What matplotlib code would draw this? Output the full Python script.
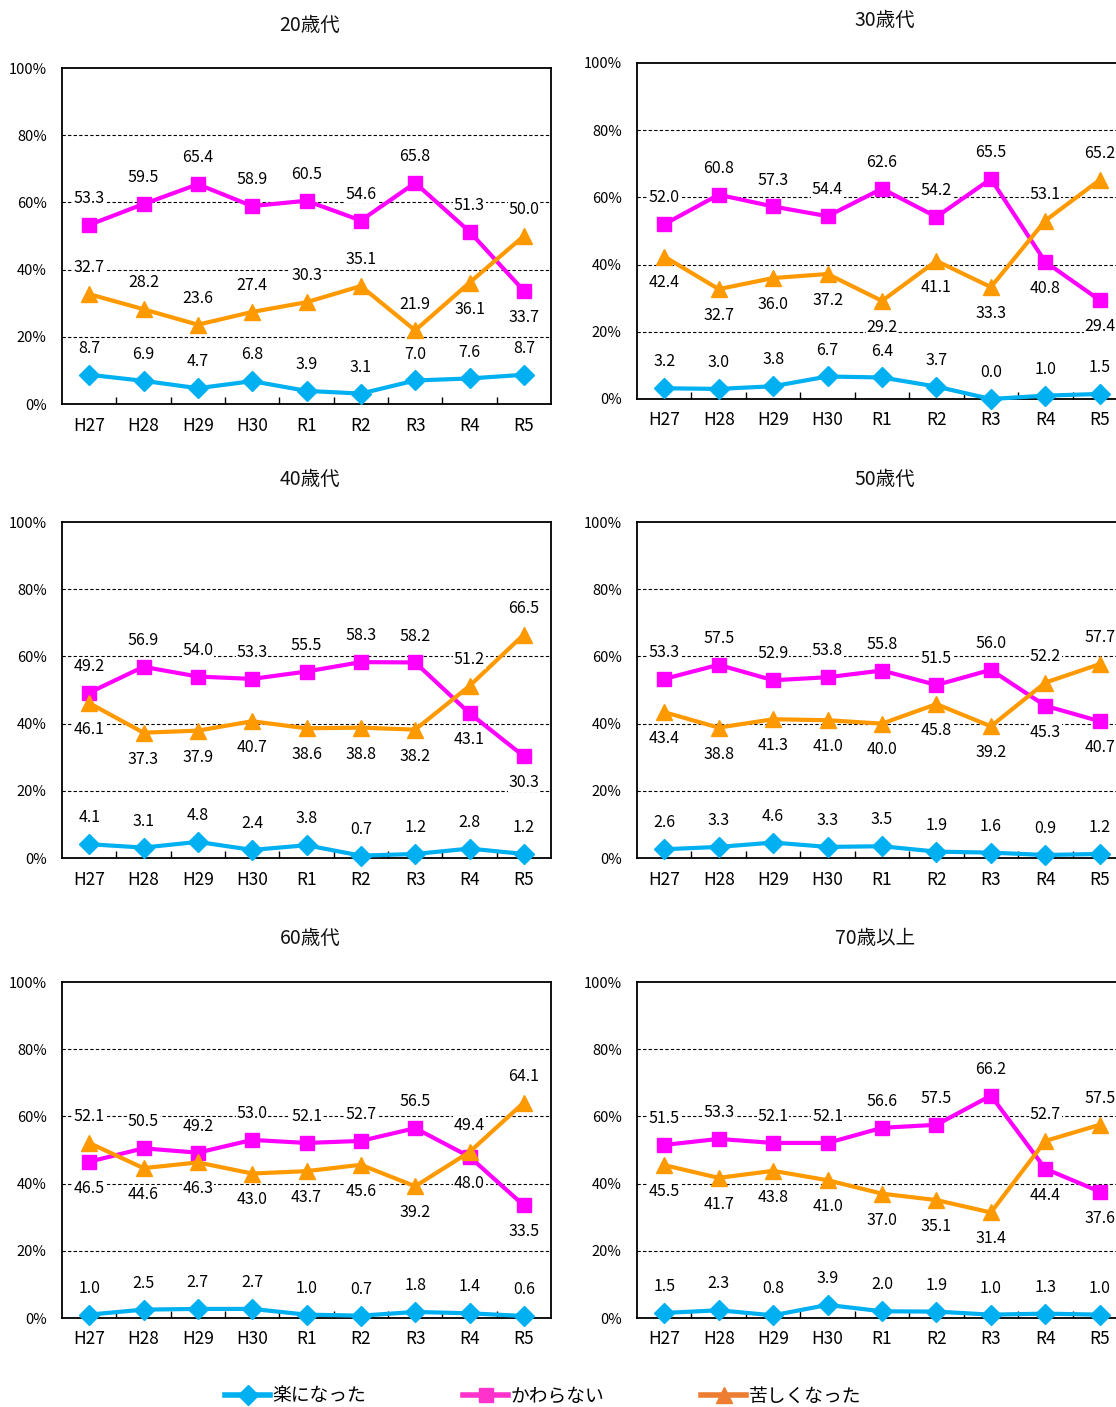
import matplotlib
matplotlib.use("Agg")
import matplotlib.pyplot as plt
from matplotlib.lines import Line2D
from matplotlib.ticker import FixedLocator

plt.rcParams['font.family'] = ['Noto Sans CJK JP', 'DejaVu Sans']

# ---------------- data ----------------
years = ["H27", "H28", "H29", "H30", "R1", "R2", "R3", "R4", "R5"]
series_names = ["楽になった", "かわらない", "苦しくなった"]
panel_titles = ["20歳代", "30歳代", "40歳代", "50歳代", "60歳代", "70歳以上"]

easier_20 = [8.7, 6.9, 4.7, 6.8, 3.9, 3.1, 7.0, 7.6, 8.7]
same_20 = [53.3, 59.5, 65.4, 58.9, 60.5, 54.6, 65.8, 51.3, 33.7]
harder_20 = [32.7, 28.2, 23.6, 27.4, 30.3, 35.1, 21.9, 36.1, 50.0]

easier_30 = [3.2, 3.0, 3.8, 6.7, 6.4, 3.7, 0.0, 1.0, 1.5]
same_30 = [52.0, 60.8, 57.3, 54.4, 62.6, 54.2, 65.5, 40.8, 29.4]
harder_30 = [42.4, 32.7, 36.0, 37.2, 29.2, 41.1, 33.3, 53.1, 65.2]

easier_40 = [4.1, 3.1, 4.8, 2.4, 3.8, 0.7, 1.2, 2.8, 1.2]
same_40 = [49.2, 56.9, 54.0, 53.3, 55.5, 58.3, 58.2, 43.1, 30.3]
harder_40 = [46.1, 37.3, 37.9, 40.7, 38.6, 38.8, 38.2, 51.2, 66.5]

easier_50 = [2.6, 3.3, 4.6, 3.3, 3.5, 1.9, 1.6, 0.9, 1.2]
same_50 = [53.3, 57.5, 52.9, 53.8, 55.8, 51.5, 56.0, 45.3, 40.7]
harder_50 = [43.4, 38.8, 41.3, 41.0, 40.0, 45.8, 39.2, 52.2, 57.7]

easier_60 = [1.0, 2.5, 2.7, 2.7, 1.0, 0.7, 1.8, 1.4, 0.6]
same_60 = [46.5, 50.5, 49.2, 53.0, 52.1, 52.7, 56.5, 48.0, 33.5]
harder_60 = [52.1, 44.6, 46.3, 43.0, 43.7, 45.6, 39.2, 49.4, 64.1]

easier_70 = [1.5, 2.3, 0.8, 3.9, 2.0, 1.9, 1.0, 1.3, 1.0]
same_70 = [51.5, 53.3, 52.1, 52.1, 56.6, 57.5, 66.2, 44.4, 37.6]
harder_70 = [45.5, 41.7, 43.8, 41.0, 37.0, 35.1, 31.4, 52.7, 57.5]

panels_data = [
    (easier_20, same_20, harder_20),
    (easier_30, same_30, harder_30),
    (easier_40, same_40, harder_40),
    (easier_50, same_50, harder_50),
    (easier_60, same_60, harder_60),
    (easier_70, same_70, harder_70),
]

# ---------------- styling / layout ----------------
# label placement per panel: (easier, same, harder); a = above, b = below
label_pos = [
    ("aaaaaaaaa", "aaaaaaaab", "aaaaaaaba"),
    ("aaaaaaaaa", "aaaaaaabb", "bbbbbbbaa"),
    ("aaaaaaaaa", "aaaaaaabb", "bbbbbbbaa"),
    ("aaaaaaaaa", "aaaaaaabb", "bbbbbbbaa"),
    ("aaaaaaaaa", "baaaaaabb", "abbbbbbaa"),
    ("aaaaaaaaa", "aaaaaaabb", "bbbbbbbaa"),
]
line_colors = ["#00B0F0", "#FF00FF", "#FF9900"]
legend_colors = ["#00B0F0", "#FF33CC", "#ED7D31"]
markers = ["D", "s", "^"]
msizes = [10, 10, 12]

W, H = 1116, 1407
fig = plt.figure(figsize=(W / 100, H / 100), dpi=100)

# axes boxes in pixels: (left, top, right, bottom)
boxes = [
    (62, 68, 551, 404),
    (637, 63, 1127, 399),
    (62, 522, 551, 858),
    (637, 522, 1127, 858),
    (62, 982, 551, 1318),
    (637, 982, 1127, 1318),
]
title_xy = [(310, 25), (885, 20), (310, 479), (885, 479), (310, 938), (875, 938)]

for i, (l, t, r, b) in enumerate(boxes):
    ax = fig.add_axes([l / W, 1 - b / H, (r - l) / W, (b - t) / H])
    ax.set_xlim(-0.5, len(years) - 0.5)
    ax.set_ylim(0, 100)
    x = list(range(len(years)))
    for s in range(3):
        vals = panels_data[i][s]
        ax.plot(x, vals, color=line_colors[s], lw=3, marker=markers[s],
                ms=msizes[s], mec=line_colors[s], mfc=line_colors[s],
                zorder=4, clip_on=False)
        for j, v in enumerate(vals):
            dy = 19 if label_pos[i][s][j] == "a" else -19
            ax.annotate(f"{v:.1f}", (j, v), xytext=(0, dy),
                        textcoords="offset points", ha="center", va="center",
                        fontsize=11.5, color="black", zorder=5,
                        bbox=dict(facecolor="white", edgecolor="none", pad=0.5))
    # grid
    ax.yaxis.set_major_locator(FixedLocator([0, 20, 40, 60, 80, 100]))
    ax.set_yticklabels(["0%", "20%", "40%", "60%", "80%", "100%"])
    for g in [20, 40, 60, 80]:
        ax.axhline(g, color="black", lw=0.8, ls=(0, (3, 2)), zorder=1)
    ax.set_xticks(x)
    ax.set_xticklabels(years)
    ax.xaxis.set_minor_locator(FixedLocator([k + 0.5 for k in range(len(years) - 1)]))
    ax.tick_params(axis="x", which="major", length=0, pad=9, labelsize=12.5)
    ax.tick_params(axis="x", which="minor", length=5, width=1, direction="in",
                   color="black")
    ax.tick_params(axis="y", which="major", length=0, pad=11, labelsize=10.5)
    for sp in ax.spines.values():
        sp.set_linewidth(1.3)
        sp.set_color("black")
    tx, ty = title_xy[i]
    fig.text(tx / W, 1 - ty / H, panel_titles[i], ha="center", va="center",
             fontsize=14, color="#111111")

handles = [Line2D([0], [0], color=legend_colors[s], lw=4, marker=markers[s],
                  ms=msizes[s], mec=legend_colors[s], mfc=legend_colors[s])
           for s in range(3)]
fig.legend(handles, series_names, loc="center", ncol=3, frameon=False,
           bbox_to_anchor=(543 / W, 1 - 1396 / H), fontsize=13.5,
           handlelength=2.4, handletextpad=0.1, columnspacing=5.2)

fig.savefig("out.png", dpi=100)
